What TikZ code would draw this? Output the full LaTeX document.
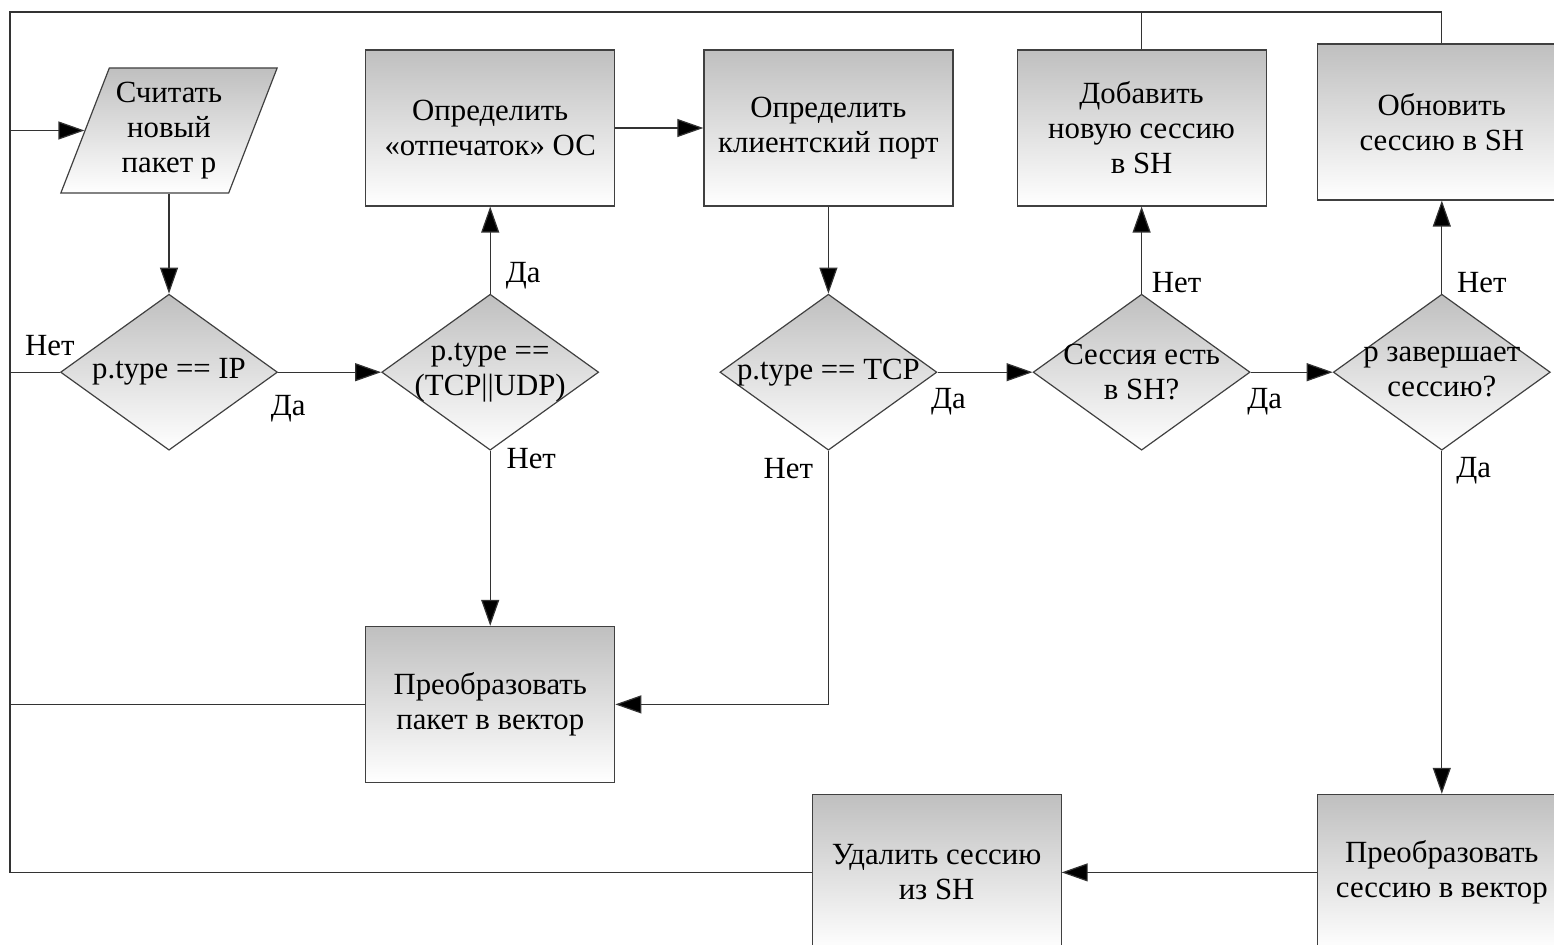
\documentclass[tikz,border=0pt]{standalone}
\usepackage{fontspec}
\setmainfont{Liberation Serif}
\usetikzlibrary{
  positioning,
  arrows.meta,
  shapes.geometric
}

\begin{document}
\begin{tikzpicture}[
    font=\fontsize{15.4pt}{17.5pt}\selectfont,
    >={Triangle[length=13pt,width=9pt,fill=black]},
    line width=0.6pt,
    module/.style={
      draw=black!75,
      top color=black!25,
      bottom color=white,
      minimum width=124.5pt,
      minimum height=78pt,
      inner sep=2pt,
      align=center
    },
    io/.style={
      trapezium,
      trapezium left angle=66,
      trapezium right angle=114,
      trapezium stretches=true,
      draw=black!75,
      top color=black!25,
      bottom color=white,
      minimum width=109pt,
      minimum height=62.5pt,
      inner sep=0pt,
      align=center
    },
    decision/.style={
      diamond,
      draw=black!75,
      top color=black!25,
      bottom color=white,
      minimum width=108.5pt,
      minimum height=78pt,
      inner sep=0pt
    },
    cond/.style={
      align=center,
      inner sep=0pt
    },
    answer/.style={
      inner sep=0pt
    },
    link/.style={
      draw=black!80
    }
  ]
  \newcommand{\vGap}{43.5pt}
  \useasboundingbox (0,0) rectangle (777pt,-472.5pt);

  % Input
  \node[io] (read) at (84.5pt,-65.25pt) {Считать\\новый\\пакет р};

  % Decisions
  \node[decision, below=50pt of read, label={[cond]center:p.type == IP}] (d1) {};
  \node[decision, right=51.5pt of d1, label={[cond]center:p.type ==\\(TCP||UDP)}] (d2) {};
  \node[decision, right=60pt of d2, label={[cond]center:p.type == TCP}] (d3) {};
  \node[decision, right=47.5pt of d3, label={[cond]center:Сессия есть\\в SH?}] (d4) {};
  \node[decision, right=41pt of d4, label={[cond]center:р завершает\\сессию?}] (d5) {};

  % Actions
  \node[module, above=\vGap of d2] (os) {Определить\\«отпечаток» ОС};
  \node[module, above=\vGap of d3] (port) {Определить\\клиентский порт};
  \node[module, above=\vGap of d4] (add) {Добавить\\новую сессию\\в SH};
  \node[module, above=46.5pt of d5] (upd) {Обновить\\сессию в SH};
  \node[module, below=87.5pt of d2] (pvec) {Преобразовать\\пакет в вектор};
  \node[module, below=171.5pt of d5] (pcs) {Преобразовать\\сессию в вектор};
  \node[module, left=127.5pt of pcs] (del) {Удалить сессию\\из SH};

  % Return loop
  \coordinate (loopTop) at (5pt,-6pt);

  % Connections
  \draw[link,->] (read.south) -- (d1.north);
  \draw[link] (d1.west) -- node[answer, pos=0, xshift=-5pt, yshift=13.5pt] {Нет} (d1.west -| loopTop);
  \draw[link,->] (d1.east) -- node[answer, pos=0, xshift=5pt, yshift=-18pt] {Да} (d2.west);
  \draw[link,->] (d2.north) -- node[answer, pos=0, xshift=16.5pt, yshift=9pt] {Да} (os.south);
  \draw[link,->] (d2.south) -- node[answer, pos=0, xshift=20.5pt, yshift=-4pt] {Нет} (pvec.north);
  \draw[link,->] (os.east) -- (port.west);
  \draw[link,->] (port.south) -- (d3.north);
  \draw[link,->] (d3.east) -- node[answer, pos=0, xshift=5.5pt, yshift=-14.5pt] {Да} (d4.west);
  \draw[link,->] (d3.south) |- node[answer, pos=0, xshift=-20pt, yshift=-9pt] {Нет} (pvec.east);
  \draw[link,->] (d4.north) -- node[answer, pos=0, xshift=17.5pt, yshift=5.5pt] {Нет} (add.south);
  \draw[link,->] (d4.east) -- node[answer, pos=0, xshift=7pt, yshift=-14.5pt] {Да} (d5.west);
  \draw[link,->] (d5.north) -- node[answer, pos=0, xshift=20pt, yshift=5.5pt] {Нет} (upd.south);
  \draw[link,->] (d5.south) -- node[answer, pos=0, xshift=16pt, yshift=-10pt] {Да} (pcs.north);
  \draw[link,->] (pcs.west) -- (del.east);

  \draw[link] (upd.north) |- (loopTop) |- (del.west);
  \draw[link] (add.north) -- (add.north |- loopTop);
  \draw[link] (pvec.west) -- (pvec.west -| loopTop);
  \draw[link,->] (loopTop |- read.west) -- (read.west);
\end{tikzpicture}
\end{document}
